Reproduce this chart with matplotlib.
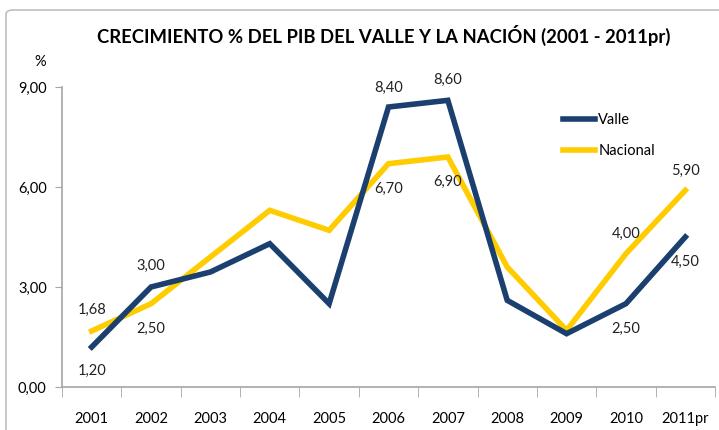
import numpy as np
import matplotlib
matplotlib.use("Agg")
from matplotlib import pyplot as plt
from matplotlib.patches import FancyBboxPatch
from matplotlib.ticker import FuncFormatter

years = ['2001', '2002', '2003', '2004', '2005', '2006', '2007', '2008', '2009', '2010', '2011pr']
valle = [1.20, 3.00, 3.45, 4.30, 2.50, 8.40, 8.60, 2.60, 1.60, 2.50, 4.50]
nacional = [1.68, 2.50, 3.90, 5.30, 4.70, 6.70, 6.90, 3.60, 1.70, 4.00, 5.90]

# etiquetas visibles: (indice, desplazamiento vertical en puntos)
valle_labels = [(0, -17), (1, 15), (5, 14), (6, 15), (9, -18), (10, -18)]
nacional_labels = [(0, 15), (1, -18), (5, -18), (6, -18), (9, 14), (10, 14)]

c_valle = '#1B3F6E'
c_nac = '#FFCC00'
c_axis = '#A6A6A6'

plt.rcParams['font.family'] = ['Lato', 'DejaVu Sans']

fig = plt.figure(figsize=(7.19, 4.30), dpi=100)

# marco gris del grafico
frame = FancyBboxPatch((6 / 719, -0.05), 1.05, 420 / 430 + 0.05, transform=fig.transFigure,
                       boxstyle='round,pad=0,rounding_size=0.01', fill=False,
                       edgecolor='#BFBFBF', linewidth=1.2)
fig.patches.append(frame)

ax = fig.add_axes([62 / 719, 1 - 387 / 430, (715 - 62) / 719, 300 / 430])
x = np.arange(len(years))
ax.plot(x, nacional, color=c_nac, lw=4, solid_joinstyle='miter', label='Nacional', zorder=2)
ax.plot(x, valle, color=c_valle, lw=4, solid_joinstyle='miter', label='Valle', zorder=3)

for i, dy in valle_labels:
    ax.annotate('{:.2f}'.format(valle[i]).replace('.', ','), (x[i], valle[i]),
                xytext=(0, dy), textcoords='offset points', ha='center', va='center',
                fontsize=10.5, color='#222222')
for i, dy in nacional_labels:
    ax.annotate('{:.2f}'.format(nacional[i]).replace('.', ','), (x[i], nacional[i]),
                xytext=(0, dy), textcoords='offset points', ha='center', va='center',
                fontsize=10.5, color='#222222')

ax.set_xlim(-0.5, len(years) - 0.5)
ax.set_ylim(0, 9)
ax.set_yticks([0, 3, 6, 9])
ax.yaxis.set_major_formatter(FuncFormatter(lambda v, p: '{:.2f}'.format(v).replace('.', ',')))
ax.set_xticks(x)
ax.set_xticklabels(years)
ax.set_xticks(np.arange(-0.5, len(years), 1), minor=True)
ax.tick_params(axis='x', which='major', length=0, pad=18, labelsize=10.5)
ax.tick_params(axis='x', which='minor', length=7, color=c_axis, direction='out')
ax.tick_params(axis='y', length=5, color=c_axis, labelsize=10.5, pad=6)

for s in ['top', 'right']:
    ax.spines[s].set_visible(False)
for s in ['left', 'bottom']:
    ax.spines[s].set_color(c_axis)
    ax.spines[s].set_linewidth(1.2)

fig.text(40 / 719, 1 - 62 / 430, '%', ha='center', va='center', fontsize=10.5)
fig.text(384 / 719, 1 - 35 / 430, 'CRECIMIENTO % DEL PIB DEL VALLE Y LA NACIÓN (2001 - 2011pr)',
         ha='center', va='center', fontsize=13.3, fontweight='bold', color='black')

handles, labels = ax.get_legend_handles_labels()
leg = ax.legend(handles[::-1], labels[::-1], loc='upper left',
                bbox_to_anchor=(550 / 719, 1 - 100 / 430), bbox_transform=fig.transFigure,
                frameon=False, fontsize=10.5, handlelength=2.2, handletextpad=0.2,
                labelspacing=1.15)

fig.savefig('out.png', dpi=100)
